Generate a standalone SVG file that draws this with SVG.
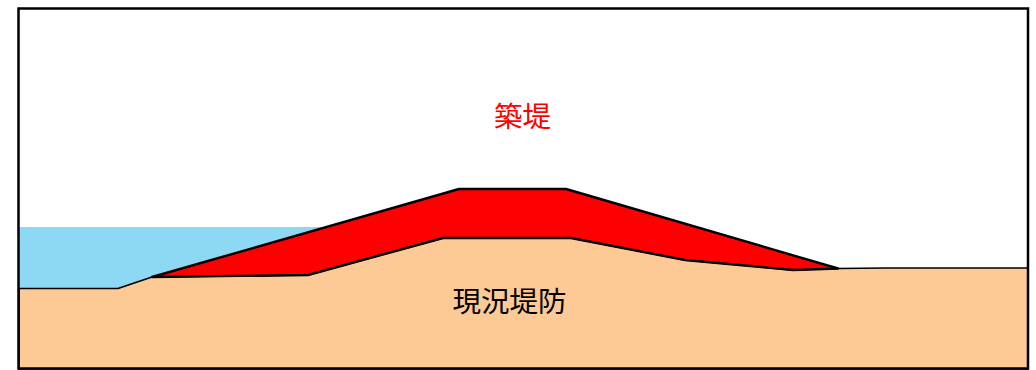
<svg xmlns="http://www.w3.org/2000/svg" width="1036" height="370" viewBox="0 0 1036 370">
  <style>
    .water { fill: #8dd8f3; stroke: none; }
    .ground { fill: #fdca96; stroke: #000; stroke-width: 1.6; stroke-linejoin: round; }
    .embank { fill: #ff0000; stroke: #000; stroke-width: 2.4; stroke-linejoin: round; }
    .label { font-family: "Noto Sans CJK JP", "Noto Sans CJK SC", sans-serif; font-size: 28.5px; text-anchor: middle; }
  </style>
  <rect x="0" y="0" width="1036" height="370" fill="#fff"/>
  <g id="water">
    <rect class="water" x="19" y="227" width="320" height="62"/>
  </g>
  <g id="existing-levee">
    <polygon class="ground" points="19,288.5 118,288.5 152,277 308,275 443,238 571,238 685,260 793,270 838,268.5 885,268 1028,268 1028,369 19,369"/>
    <text class="label" x="509.5" y="312" fill="#000">現況堤防</text>
  </g>
  <g id="embankment">
    <polygon class="embank" points="152,277 459,189 566,189 838,268.5 793,270 685,260 571,238 443,238 308,275"/>
    <text class="label" x="522.5" y="127" fill="#ff0000">築堤</text>
  </g>
  <rect x="18.5" y="8.5" width="1009.5" height="360" fill="none" stroke="#000" stroke-width="2.5"/>
</svg>
